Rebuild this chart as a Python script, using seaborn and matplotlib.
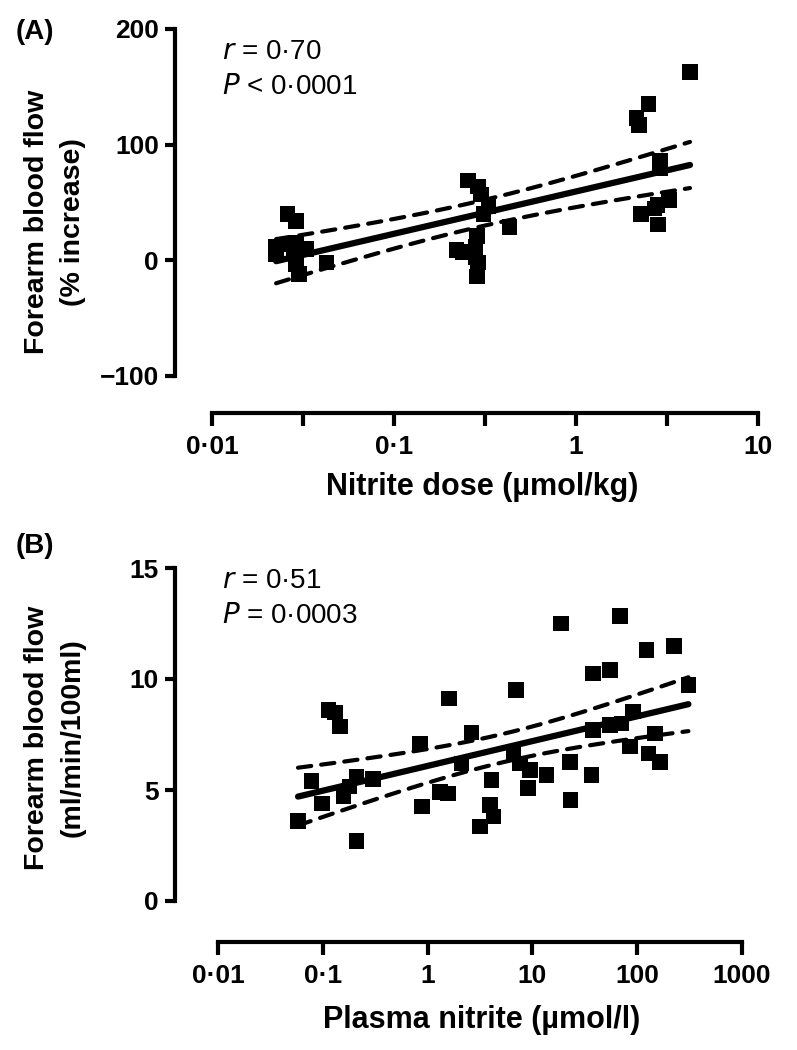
import numpy as np
import matplotlib
matplotlib.use('Agg')
import matplotlib.pyplot as plt
import seaborn as sns
from matplotlib.ticker import NullLocator

# Panel A: nitrite dose vs % increase in forearm blood flow
dose_a = [0.0225, 0.0225, 0.026, 0.029, 0.027, 0.029, 0.033, 0.029, 0.030, 0.028, 0.0425,
          0.255, 0.29, 0.30, 0.33, 0.31, 0.43, 0.22, 0.24, 0.285, 0.28, 0.28, 0.29, 0.286,
          4.23, 2.5, 2.15, 2.22, 2.9, 2.9, 3.25, 2.8, 2.28, 2.83, 2.7]
fbf_a = [5, 12, 40, 34, 14, 15, 10, -3, -12, 7, -2,
         69, 64, 57, 47, 40, 29, 9, 7, 21, 12, 3, -2, -14,
         163, 135, 123, 117, 86, 80, 52, 48, 40, 31, 45]

# Panel B: plasma nitrite vs forearm blood flow
plasma_b = [0.058, 0.078, 0.098, 0.113, 0.13, 0.146, 0.157, 0.18, 0.21, 0.21, 0.30,
            0.85, 0.88, 1.31, 1.6, 1.57, 2.11, 2.63, 4.08, 3.93, 3.16, 4.24,
            6.98, 6.57, 7.62, 9.48, 13.7, 9.1, 22.9, 23.2, 18.7, 36.7, 38, 55, 68.5,
            38, 55, 71, 91.5, 85, 128, 123, 224, 308, 148, 165]
fbf_b = [3.6, 5.4, 4.4, 8.6, 8.5, 7.85, 4.7, 5.15, 5.6, 2.7, 5.5,
         7.1, 4.25, 4.92, 9.13, 4.85, 6.2, 7.6, 5.45, 4.32, 3.35, 3.8,
         9.5, 6.7, 6.2, 5.9, 5.67, 5.08, 6.27, 4.55, 12.5, 5.67, 10.25, 10.4, 12.84,
         7.7, 7.93, 8.0, 8.53, 6.95, 6.65, 11.3, 11.49, 9.73, 7.55, 6.27]

xticks_a = [0.01, 10**-1.5, 0.1, 10**-0.5, 1, 10**0.5, 10]
xlabels_a = ['0·01', '', '0·1', '', '1', '', '10']
yticks_a = [-100, 0, 100, 200]
yticklabels_a = ['\u2212100', '0', '100', '200']
xticks_b = [0.01, 0.1, 1, 10, 100, 1000]
xlabels_b = ['0·01', '0·1', '1', '10', '100', '1000']
yticks_b = [0, 5, 10, 15]

W, H = 797, 1050

sns.set_style('ticks')
plt.rcParams['font.family'] = ['Liberation Sans', 'DejaVu Sans']
plt.rcParams['axes.linewidth'] = 3
for key in ['text.color', 'axes.edgecolor', 'axes.labelcolor', 'xtick.color', 'ytick.color']:
    plt.rcParams[key] = 'black'


def px_axes(fig, left, top, right, bottom):
    return fig.add_axes([left / W, 1 - bottom / H, (right - left) / W, (bottom - top) / H])


def fit_ci(x, y, tcrit):
    lx = np.log10(np.asarray(x))
    y = np.asarray(y, dtype=float)
    b, a = np.polyfit(lx, y, 1)
    g = np.linspace(lx.min(), lx.max(), 100)
    n = len(lx)
    resid = y - (a + b * lx)
    s = np.sqrt(np.sum(resid ** 2) / (n - 2))
    sxx = np.sum((lx - lx.mean()) ** 2)
    se = s * np.sqrt(1 / n + (g - lx.mean()) ** 2 / sxx)
    fit = a + b * g
    return 10 ** g, fit, fit - tcrit * se, fit + tcrit * se


def panel(fig, rect_px, x, y, xpx, xlim_dec, ylim, xticks, xlabels, yticks, ylabels,
          outward_px, tcrit):
    left, top, right, bottom = rect_px
    ax = px_axes(fig, left, top, right, bottom)
    ax.set_xscale('log')
    x0, x1 = xpx
    dec_px = (x1 - x0) / (xlim_dec[1] - xlim_dec[0])
    lo = xlim_dec[0] - (x0 - left) / dec_px
    hi = xlim_dec[1] + (right - x1) / dec_px
    ax.set_xlim(10 ** lo, 10 ** hi)
    ax.set_ylim(*ylim)

    sns.scatterplot(x=x, y=y, ax=ax, marker='s', s=125, color='black',
                    edgecolor='none', linewidth=0, zorder=3)
    gx, fit, lo_ci, hi_ci = fit_ci(x, y, tcrit)
    sns.lineplot(x=gx, y=fit, ax=ax, color='black', linewidth=4.5,
                 solid_capstyle='round', zorder=4)
    for band in (lo_ci, hi_ci):
        sns.lineplot(x=gx, y=band, ax=ax, color='black', linewidth=3,
                     linestyle=(0, (3.2, 2.4)), dash_capstyle='round', zorder=4)

    ax.set_xticks(xticks)
    ax.set_xticklabels(xlabels)
    ax.xaxis.set_minor_locator(NullLocator())
    ax.set_yticks(yticks)
    ax.set_yticklabels(ylabels)
    sns.despine(ax=ax)
    ax.spines['left'].set_bounds(yticks[0], yticks[-1])
    ax.spines['bottom'].set_bounds(xticks[0], xticks[-1])
    ax.spines['bottom'].set_position(('outward', outward_px * 0.72))
    ax.tick_params(axis='both', length=7.5, width=3, labelsize=19, pad=4, colors='black')
    ax.tick_params(axis='x', length=9, pad=7)
    for lab in ax.get_xticklabels() + ax.get_yticklabels():
        lab.set_fontweight('bold')
    ax.set_xlabel('')
    ax.set_ylabel('')
    ax.patch.set_alpha(0)
    return ax


fig = plt.figure(figsize=(W / 100, H / 100), dpi=100)

ax_a = panel(fig, (175, 29, 763, 376), dose_a, fbf_a, (212, 758), (-2, 1), (-100, 200),
             xticks_a, xlabels_a, yticks_a, yticklabels_a, 37, 2.035)
ax_b = panel(fig, (175, 568, 747, 901), plasma_b, fbf_b, (218, 742), (-2, 3), (0, 15),
             xticks_b, xlabels_b, yticks_b, [str(v) for v in yticks_b], 41, 2.015)

# panel letters
fig.text(16 / W, 1 - 32 / H, '(A)', fontsize=20, fontweight='bold', va='center', ha='left')
fig.text(16 / W, 1 - 546 / H, '(B)', fontsize=20, fontweight='bold', va='center', ha='left')

# y labels
fig.text(55 / W, 1 - 222 / H, 'Forearm blood flow\n(% increase)', rotation=90,
         ha='center', va='center', multialignment='center', fontsize=20.5, fontweight='bold',
         linespacing=1.5)
fig.text(55 / W, 1 - 738 / H, 'Forearm blood flow\n(ml/min/100ml)', rotation=90,
         ha='center', va='center', multialignment='center', fontsize=20.5, fontweight='bold',
         linespacing=1.5)

# x labels
fig.text(482 / W, 1 - 487 / H, 'Nitrite dose (\u00b5mol/kg)', ha='center', va='center',
         fontsize=22, fontweight='bold')
fig.text(482 / W, 1 - 1020 / H, 'Plasma nitrite (\u00b5mol/l)', ha='center', va='center',
         fontsize=22, fontweight='bold')

# statistics
ax_a.text(222 / W, 1 - 52 / H, r'$\it{r}$ = 0·70', transform=fig.transFigure,
          fontsize=20, va='center', ha='left')
ax_a.text(222 / W, 1 - 87 / H, r'$\it{P}$ < 0·0001', transform=fig.transFigure,
          fontsize=20, va='center', ha='left')
ax_b.text(222 / W, 1 - 581 / H, r'$\it{r}$ = 0·51', transform=fig.transFigure,
          fontsize=20, va='center', ha='left')
ax_b.text(222 / W, 1 - 616 / H, r'$\it{P}$ = 0·0003', transform=fig.transFigure,
          fontsize=20, va='center', ha='left')

fig.savefig('out.png', dpi=100, facecolor='white')
